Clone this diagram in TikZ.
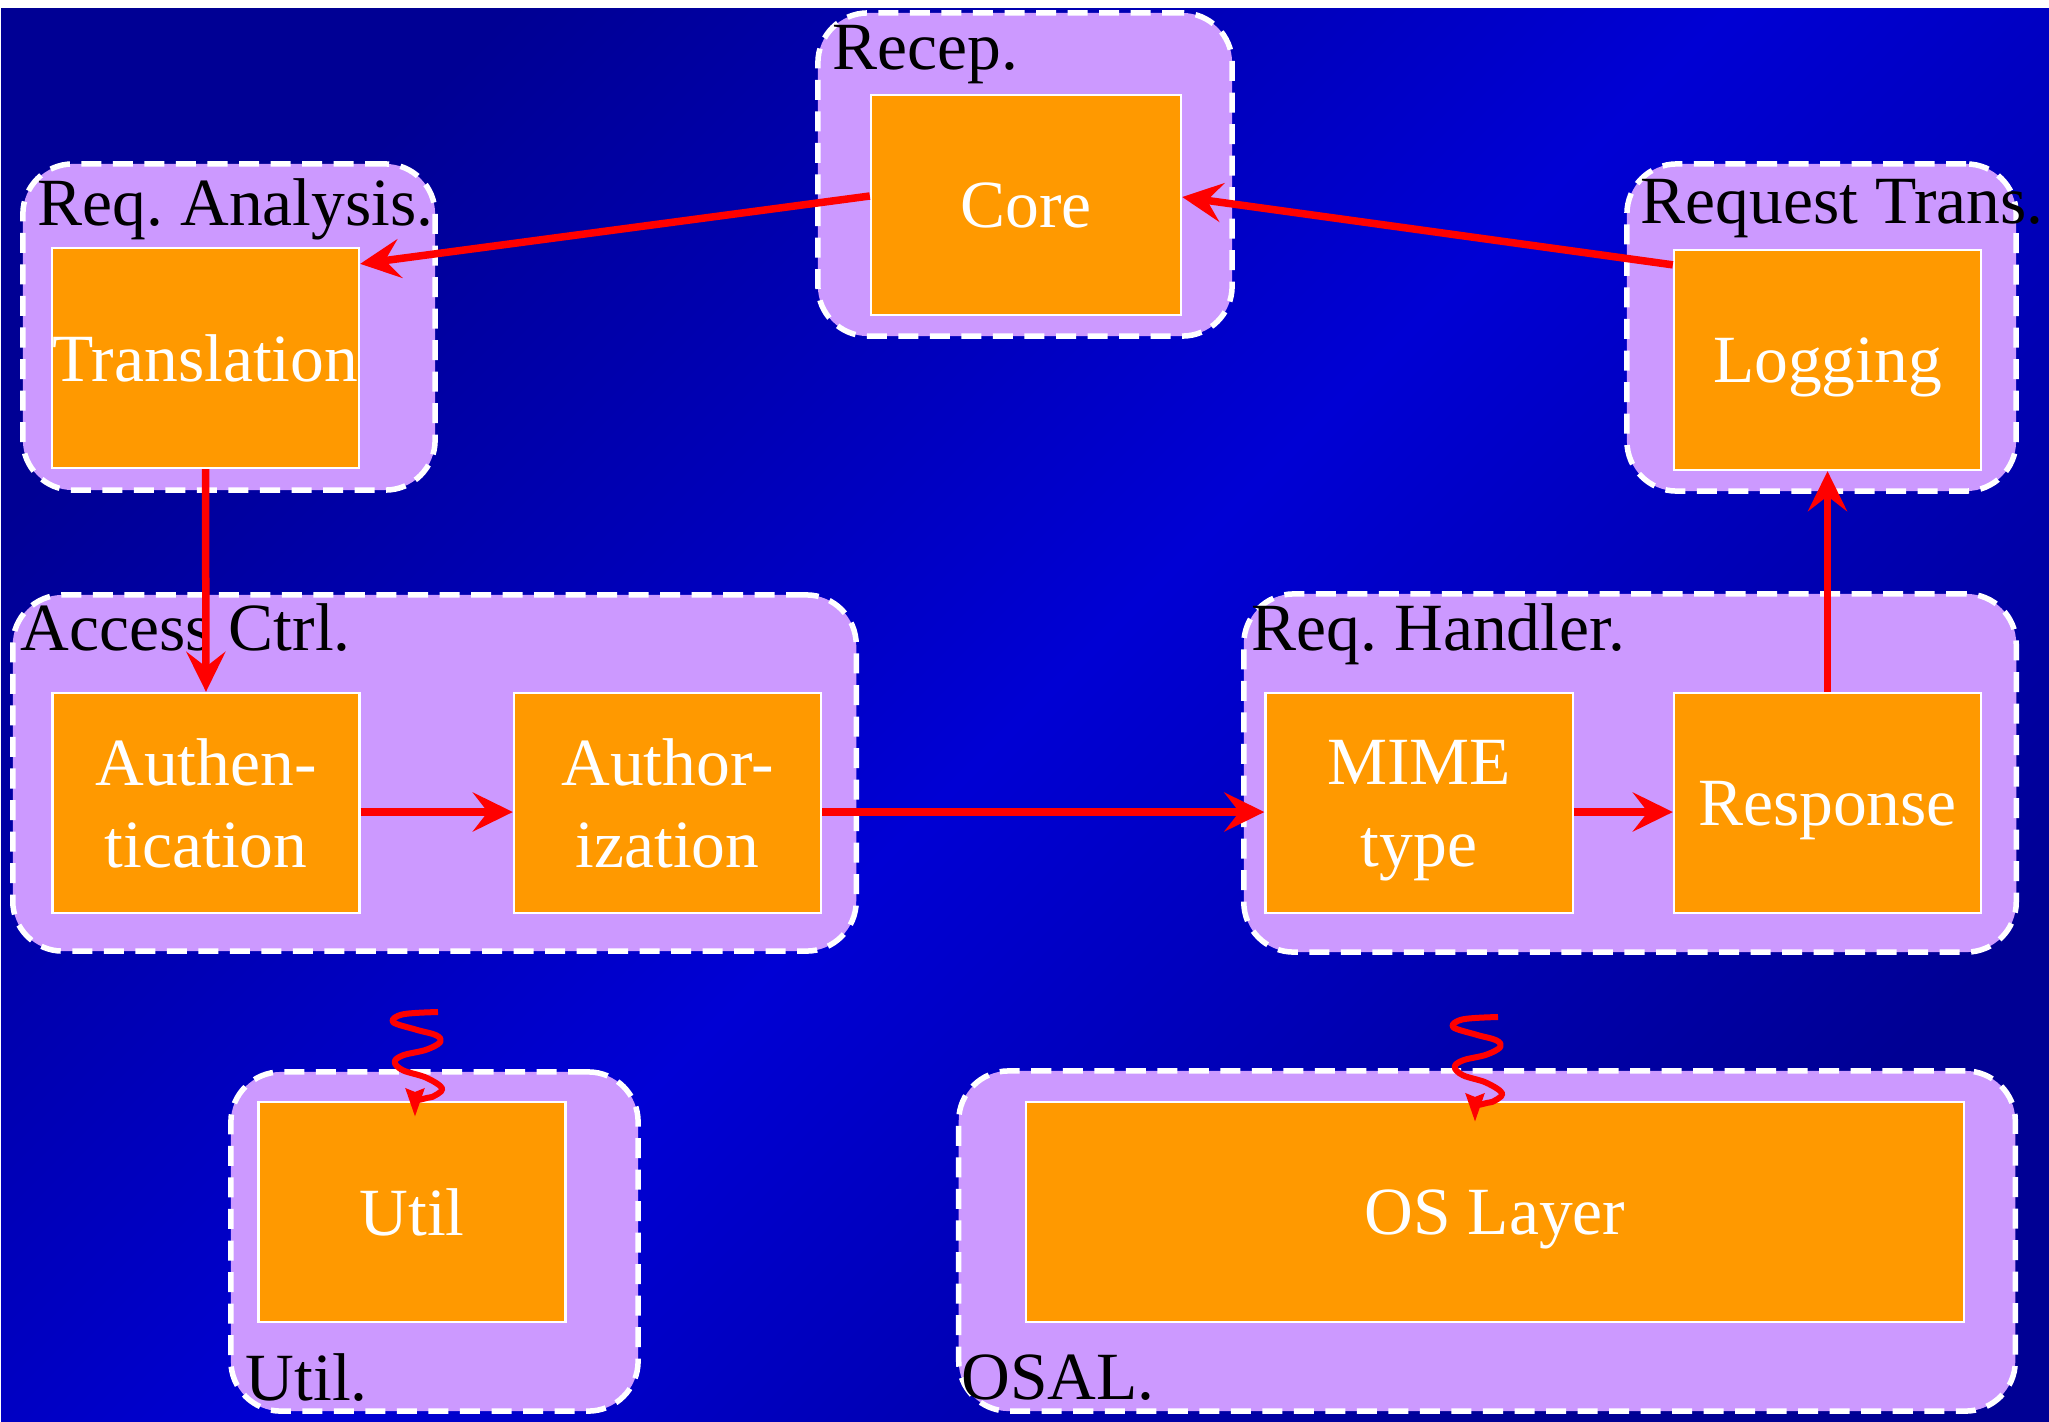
\documentclass[tikz,border=0pt]{standalone}
\usepackage{fontspec}
\setmainfont{Liberation Serif}
\usetikzlibrary{arrows.meta,calc}
\definecolor{bgdark}{RGB}{0,0,148}
\definecolor{bgmid}{RGB}{0,0,212}
\definecolor{grpfill}{RGB}{204,153,255}
\definecolor{compfill}{RGB}{255,153,0}
\tikzset{
  grp/.style={draw=white, line width=0.055cm, dash pattern=on 0.2cm off 0.115cm,
    fill=grpfill, rounded corners=0.5cm, inner sep=0pt},
  comp/.style={draw=white, line width=0.022cm, fill=compfill, text=white, inner sep=0pt,
    minimum width=3.07cm, minimum height=2.2cm, align=center, text depth=0pt},
  lbl/.style={text=black, inner sep=0pt, anchor=base west},
  flow/.style={draw=red, line width=0.075cm,
    -{Stealth[length=0.40cm,width=0.39cm,inset=0.15cm]}},
  squig/.style={draw=red, line width=0.06cm, line join=round,
    -{Stealth[length=0.28cm,width=0.18cm,inset=0.03cm]}},
  squiggle/.pic={
    \draw[squig] plot[smooth, tension=0.6] coordinates {(0,0) (-35,2.3) (-45,10) (-21.7,17.7)
      (-1.7,23.3) (2.3,30) (-11.7,37.7) (-35,43.3) (-43.3,50) (-35,58.3) (-11.7,65.7)
      (4.3,76.7) (-6,85)} .. controls (-20,87) and (-23,92) .. (-23,105);
  }
}
\begin{document}
\begin{tikzpicture}[x=0.01cm, y=-0.01cm, font=\fontsize{19.2}{23.3}\selectfont\frenchspacing]
\useasboundingbox (0,0) rectangle (2049,1421);
\shade[top color=bgdark, bottom color=bgdark, middle color=bgmid, shading angle=45]
  (1,8) rectangle (2049,1421);

% groups
\node[grp, minimum width=4.14cm, minimum height=3.23cm] (grecep) at (1025,174.5) {};
\node[grp, minimum width=4.12cm, minimum height=3.26cm] (greqan) at (229,327) {};
\node[grp, minimum width=3.89cm, minimum height=3.27cm] (greqtr) at (1821.5,327.5) {};
\node[grp, minimum width=8.43cm, minimum height=3.56cm] (gaccess) at (434.5,773) {};
\node[grp, minimum width=7.72cm, minimum height=3.58cm] (ghandler) at (1630,773) {};
\node[grp, minimum width=4.07cm, minimum height=3.39cm] (gutil) at (434.5,1241.5) {};
\node[grp, minimum width=10.56cm, minimum height=3.40cm] (gosal) at (1487,1241) {};

% group labels
\node[lbl] (lrecep) at ([xshift=0.17cm,yshift=-0.59cm]grecep.north west) {Recep.};
\node[lbl] (lreqan) at ([xshift=0.17cm,yshift=-0.64cm]greqan.north west) {Req. Analysis.};
\node[lbl] (lreqtr) at ([xshift=0.16cm,yshift=-0.62cm]greqtr.north west) {Request Trans.};
\node[lbl] (laccess) at ([xshift=0.10cm,yshift=-0.58cm]gaccess.north west) {Access Ctrl.};
\node[lbl] (lhandler) at ([xshift=0.10cm,yshift=-0.59cm]ghandler.north west) {Req. Handler.};
\node[lbl] (lutil) at ([xshift=0.17cm,yshift=0.13cm]gutil.south west) {Util.};
\node[lbl] (losal) at ([xshift=0.05cm,yshift=0.14cm]gosal.south west) {OSAL.};

% components
\node[comp, minimum width=3.10cm] (core) at (1026,205) {Core};
\node[comp] (trans) at (205.5,358) {Translation};
\node[comp] (logging) at (1827.5,360) {Logging};
\node[comp] (authn) at (206,803) {Authen-\\tication};
\node[comp] (authz) at (667.5,803) {Author-\\ization};
\node[comp] (mime) at (1419,803) {MIME\\type};
\node[comp] (resp) at (1827.5,803) {Response};
\node[comp] (util) at (412,1212) {Util};
\node[comp, minimum width=9.38cm] (oslayer) at (1495,1212) {OS Layer};

% connectors
\draw[flow] ([yshift=0.09cm]core.west) -- ([yshift=-0.17cm]trans.north east);
\draw[flow] ([yshift=-0.16cm]logging.north west) -- ([yshift=0.08cm]core.east);
\draw[flow] (trans.south) -- (authn.north);
\draw[flow] ([yshift=-0.09cm]authn.east) -- ([yshift=-0.09cm]authz.west);
\draw[flow] ([yshift=-0.09cm]authz.east) -- ([yshift=-0.09cm]mime.west);
\draw[flow] ([yshift=-0.09cm]mime.east) -- ([yshift=-0.09cm]resp.west);
\draw[flow] (resp.north) -- (logging.south);

% squiggly dependencies
\coordinate (su) at (438,1012);
\coordinate (so) at (1498,1017);
\pic (squtil) at (su) {squiggle};
\pic (squos) at (so) {squiggle};
\end{tikzpicture}
\end{document}
